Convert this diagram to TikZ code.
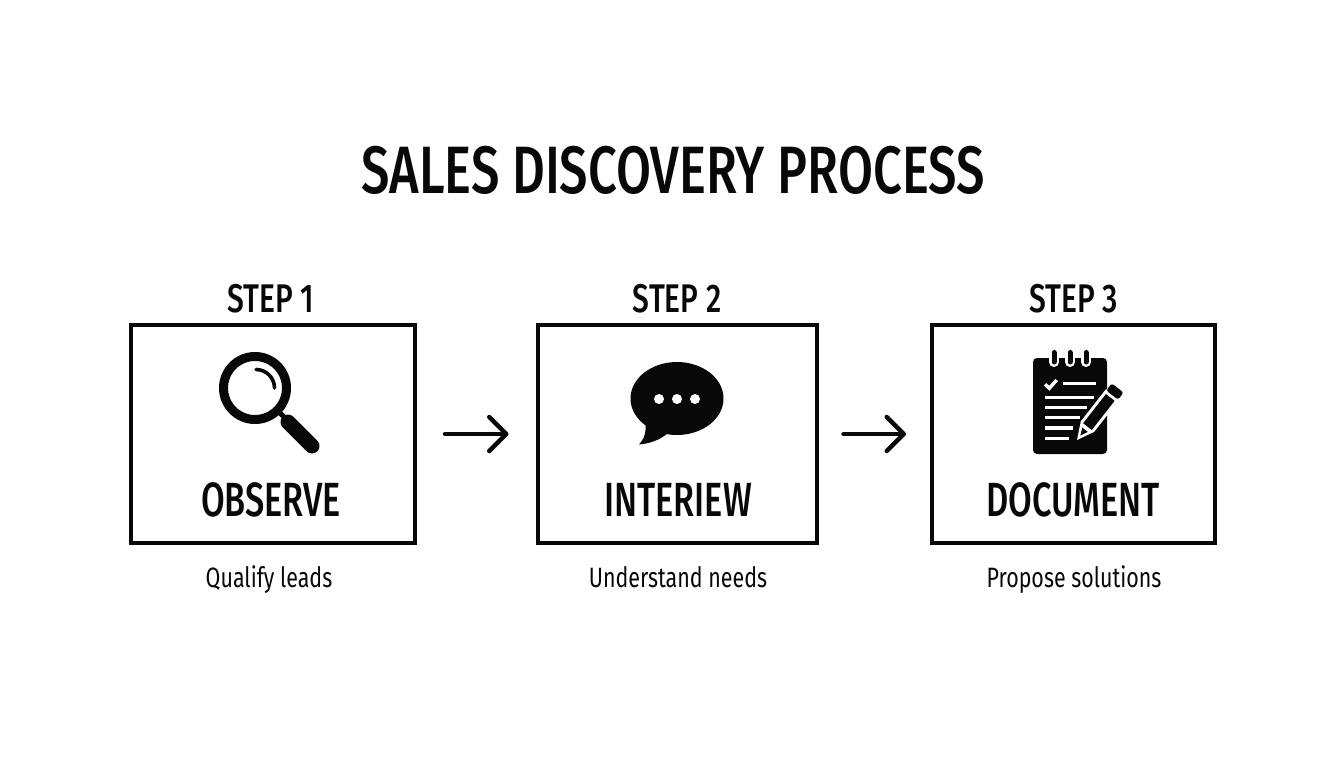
\documentclass[tikz,border=0pt]{standalone}
\usepackage{fontspec}
\usetikzlibrary{arrows.meta}
\newfontfamily\titlefont{Fira Sans Medium}[FakeStretch=0.757]
\newfontfamily\stepfont{Fira Sans Medium}[FakeStretch=0.75]
\newfontfamily\namefont{Fira Sans Medium}[FakeStretch=0.715]
\newfontfamily\capfont{Fira Sans}[FakeStretch=0.765]
\definecolor{ink}{HTML}{080808}
\tikzset{
  stepbox/.style={draw=ink,line width=4pt,fill=white,inner sep=0pt,minimum height=218pt},
  titletext/.style={text=ink,inner sep=0pt,font=\titlefont\fontsize{67}{67}\selectfont},
  steptext/.style={text=ink,inner sep=0pt,font=\stepfont\fontsize{40}{40}\selectfont},
  nametext/.style={text=ink,inner sep=0pt,font=\namefont\fontsize{48}{48}\selectfont},
  captext/.style={text=ink,inner sep=0pt,font=\capfont\fontsize{28}{28}\selectfont},
  flow/.style={draw=ink,line width=4.5pt,line cap=round,-{Straight Barb[length=17pt,width=34pt,round,line width=4.5pt]}},
}
\begin{document}
\begin{tikzpicture}[x=1pt,y=-1pt]
\useasboundingbox (0,0) rectangle (1344,768);
\fill[white] (0,0) rectangle (1344,768);
\node[titletext,anchor=base] (title) at (673,193) {SALES DISCOVERY PROCESS};

\node[stepbox,minimum width=284pt] (box1) at (273,434) {};
\node[stepbox,minimum width=279pt] (box2) at (677,434) {};
\node[stepbox,minimum width=283pt] (box3) at (1073.5,434) {};

\node[steptext,anchor=base] (step1) at (271,312) {STEP 1};
\node[steptext,anchor=base] (step2) at (677,312) {STEP 2};
\node[steptext,anchor=base] (step3) at (1074,312) {STEP 3};

\node[nametext,anchor=base] (name1) at (271,516) {OBSERVE};
\node[nametext,anchor=base] (name2) at (678,516) {INTERIEW};
\node[nametext,anchor=base] (name3) at (1073,516) {DOCUMENT};

\node[captext,anchor=base] (cap1) at (269,587) {Qualify leads};
\node[captext,anchor=base] (cap2) at (678,587) {Understand needs};
\node[captext,anchor=base] (cap3) at (1074,587) {Propose solutions};

\draw[flow,shorten <=28pt,shorten >=27pt] (box1.east) -- (box2.west);
\draw[flow,shorten <=25pt,shorten >=24pt] (box2.east) -- (box3.west);

% magnifier
\draw[draw=ink,line width=9pt] (255,388) circle (31.5);
\draw[draw=ink,line width=3.6pt,line cap=round] (256,369.5) arc[start angle=-90,end angle=0,radius=18.5];
\draw[draw=ink,line width=5pt] (277,410) -- (287,420);
\draw[draw=ink,line width=15pt,line cap=round] (288,422) -- (312,446);

% speech bubble
\fill[ink] (677,398.5) ellipse[x radius=46.5,y radius=36.5];
\fill[ink] (646,420) -- (645.5,430) .. controls (645,436) and (643,440) .. (639,444.5) .. controls (650,443.5) and (660,440) .. (668,433) -- cycle;
\foreach \cx in {659,677,695}{\fill[white] (\cx,399) circle (5);}

% notepad
\fill[ink,rounded corners=4pt] (1033,358) rectangle (1107,454);
\foreach \cx in {1054,1070,1086}{
  \draw[white,line width=10pt,line cap=round] (\cx,354) -- (\cx,362);
  \draw[ink,line width=5pt,line cap=round] (\cx,352.5) -- (\cx,362);
}
\draw[white,line width=3.5pt] (1045,384.3) -- (1049.3,388.3) -- (1056.7,380);
\draw[white,line width=3.8pt] (1063,383.5) -- (1096,383.5)
  (1045,397.5) -- (1094,397.5)
  (1045,407.5) -- (1087,407.5)
  (1045,417.5) -- (1080,417.5)
  (1045,428) -- (1073,428)
  (1045,438.5) -- (1069,438.5);
\begin{scope}[shift={(1077,440)},x={(0.616pt,0.788pt)},y={(0.788pt,-0.616pt)}]
  \fill[white] (0,0) -- (17,-8.5) -- (58,-8.5) -- (58,8.5) -- (17,8.5) -- cycle;
  \fill[ink] (5.5,0) -- (13,-3.5) -- (13,3.5) -- cycle;
  \fill[ink] (17,-5.5) -- (54,-5.5) -- (54,5.5) -- (17,5.5) -- cycle;
  \fill[ink,rounded corners=2.5pt] (57,-7.5) -- (66,-7.5) -- (66,7.5) -- (57,7.5) -- cycle;
\end{scope}
\end{tikzpicture}
\end{document}
